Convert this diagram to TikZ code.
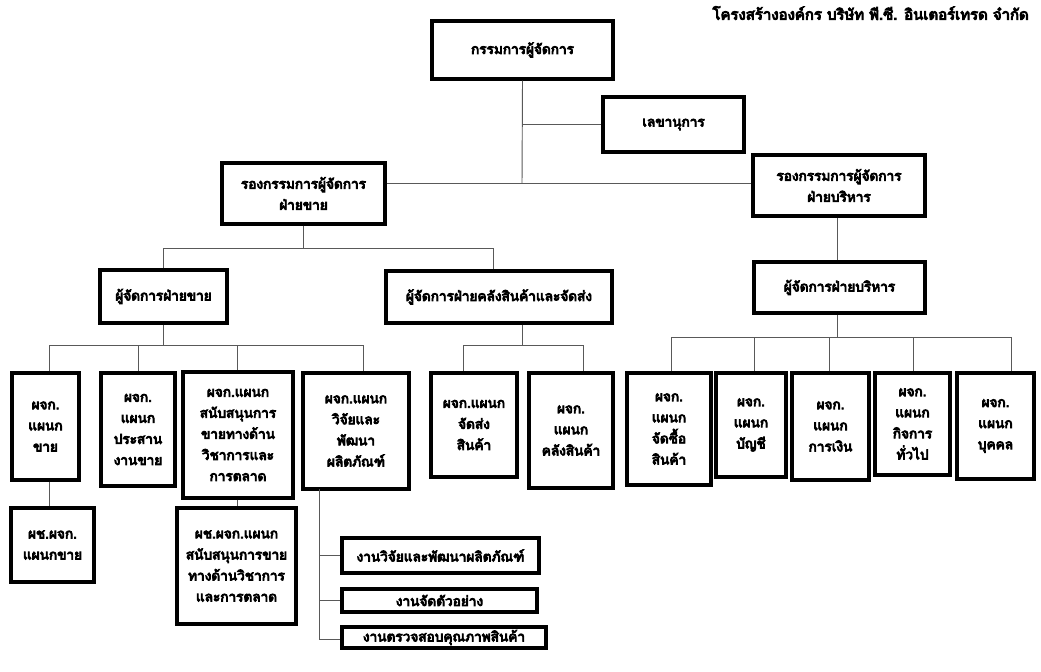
\documentclass[tikz,border=0pt]{standalone}
\usepackage{fontspec}
\newfontfamily\thaifont[Script=Thai,FakeBold=6]{Loma}
\tikzset{
  orgbox/.style={draw=black, line width=2.4pt, fill=white, align=center, inner sep=0pt,
    font=\thaifont\fontsize{10.2}{15.8}\selectfont},
  conn/.style={draw=black!65, line width=0.7pt},
}
% box from corner (x1,y1) to corner (x2,y2), in pixel units
\newcommand\orgnode[6]{%
  \node[orgbox, minimum width={(#4-#2)*0.75pt}, minimum height={(#5-#3)*0.75pt}]
    (#1) at ({(#2+#4)/2},{(#3+#5)/2}) {#6};}
\begin{document}
\begin{tikzpicture}[x=0.75pt,y=-0.75pt]
\useasboundingbox (0,0) rectangle (1041,671);

\node[anchor=east, inner sep=0pt, font=\thaifont\fontsize{11.2}{13}\selectfont] (title)
  at (1029,13) {โครงสร้างองค์กร บริษัท พี.ซี. อินเตอร์เทรด จำกัด};

% top management
\orgnode{md}{432}{21}{613}{79}{กรรมการผู้จัดการ}
\orgnode{sec}{603}{97}{744}{152}{เลขานุการ}
\orgnode{vpS}{222}{163}{385}{224}{รองกรรมการผู้จัดการ\\ฝ่ายขาย}
\orgnode{vpA}{753}{155}{925}{216}{รองกรรมการผู้จัดการ\\ฝ่ายบริหาร}

% managers
\orgnode{mS}{100}{270}{227}{323}{ผู้จัดการฝ่ายขาย}
\orgnode{mW}{386}{271}{612}{323}{ผู้จัดการฝ่ายคลังสินค้าและจัดส่ง}
\orgnode{mA}{754}{262}{925}{313}{ผู้จัดการฝ่ายบริหาร}

% sales departments
\orgnode{dSale}{12}{373}{79}{480}{ผจก.\\แผนก\\ขาย}
\orgnode{dCoord}{101}{373}{175}{486}{ผจก.\\แผนก\\ประสาน\\งานขาย}
\orgnode{dSup}{183}{372}{293}{498}{ผจก.แผนก\\สนับสนุนการ\\ขายทางด้าน\\วิชาการและ\\การตลาด}
\orgnode{dRD}{303}{373}{409}{489}{ผจก.แผนก\\วิจัยและ\\พัฒนา\\ผลิตภัณฑ์}

% warehouse departments
\orgnode{dShip}{431}{373}{517}{477}{ผจก.แผนก\\จัดส่ง\\สินค้า}
\orgnode{dStore}{529}{373}{613}{488}{ผจก.\\แผนก\\คลังสินค้า}

% administration departments
\orgnode{dBuy}{627}{373}{711}{485}{ผจก.\\แผนก\\จัดซื้อ\\สินค้า}
\orgnode{dAcc}{716}{373}{786}{477}{ผจก.\\แผนก\\บัญชี}
\orgnode{dFin}{792}{373}{869}{480}{ผจก.\\แผนก\\การเงิน}
\orgnode{dGen}{875}{373}{950}{475}{ผจก.\\แผนก\\กิจการ\\ทั่วไป}
\orgnode{dHR}{957}{373}{1034}{479}{ผจก.\\แผนก\\บุคคล}

% assistants and sections
\orgnode{aSale}{11}{508}{94}{582}{ผช.ผจก.\\แผนกขาย}
\orgnode{aSup}{177}{508}{296}{624}{ผช.ผจก.แผนก\\สนับสนุนการขาย\\ทางด้านวิชาการ\\และการตลาด}
\orgnode{sRD}{342}{538}{539}{573}{งานวิจัยและพัฒนาผลิตภัณฑ์}
\orgnode{sSmp}{342}{589}{537}{612}{งานจัดตัวอย่าง}
\orgnode{sQC}{342}{627}{546}{648}{งานตรวจสอบคุณภาพสินค้า}

% junction points
\coordinate (jTop) at (522,183);
\coordinate (jS) at (303.5,248);
\coordinate (jSL) at (163.5,248);
\coordinate (jSR) at (493,248);
\coordinate (bS) at (163.5,345);
\coordinate (bS1) at (49,345);
\coordinate (bS2) at (138,345);
\coordinate (bS3) at (237,345);
\coordinate (bS4) at (363,345);
\coordinate (bW) at (522,345);
\coordinate (bW1) at (463,345);
\coordinate (bW2) at (583,345);
\coordinate (bA) at (837,337);
\coordinate (bA1) at (671,337);
\coordinate (bA2) at (754,337);
\coordinate (bA3) at (829,337);
\coordinate (bA4) at (913,337);
\coordinate (bA5) at (1011,337);
\coordinate (tRD) at (319,489);
\coordinate (tRDend) at (319,639);

% trunk
\draw[conn] (md.south) -- (jTop);
\draw[conn] (md.south |- sec.west) -- (sec.west);
\draw[conn] (vpS.east |- jTop) -- (vpA.west |- jTop);
% sales side
\draw[conn] (vpS.south) -- (jS);
\draw[conn] (jSL) -- (jSR);
\draw[conn] (jSL) -- (jSL |- mS.north);
\draw[conn] (jSR) -- (jSR |- mW.north);
\draw[conn] (mS.south) -- (bS);
\draw[conn] (bS1) -- (bS4);
\draw[conn] (bS1) -- (bS1 |- dSale.north);
\draw[conn] (bS2) -- (bS2 |- dCoord.north);
\draw[conn] (bS3) -- (bS3 |- dSup.north);
\draw[conn] (bS4) -- (bS4 |- dRD.north);
\draw[conn] (bS1 |- dSale.south) -- (bS1 |- aSale.north);
\draw[conn] (bS3 |- dSup.south) -- (bS3 |- aSup.north);
\draw[conn] (tRD) -- (tRDend);
\draw[conn] (tRD |- sRD.west) -- (sRD.west);
\draw[conn] (tRD |- sSmp.west) -- (sSmp.west);
\draw[conn] (tRDend) -- (sQC.west |- tRDend);
% warehouse side
\draw[conn] (bW |- mW.south) -- (bW);
\draw[conn] (bW1) -- (bW2);
\draw[conn] (bW1) -- (bW1 |- dShip.north);
\draw[conn] (bW2) -- (bW2 |- dStore.north);
% administration side
\draw[conn] (bA |- vpA.south) -- (bA |- mA.north);
\draw[conn] (bA |- mA.south) -- (bA);
\draw[conn] (bA1) -- (bA5);
\draw[conn] (bA1) -- (bA1 |- dBuy.north);
\draw[conn] (bA2) -- (bA2 |- dAcc.north);
\draw[conn] (bA3) -- (bA3 |- dFin.north);
\draw[conn] (bA4) -- (bA4 |- dGen.north);
\draw[conn] (bA5) -- (bA5 |- dHR.north);
\end{tikzpicture}
\end{document}
